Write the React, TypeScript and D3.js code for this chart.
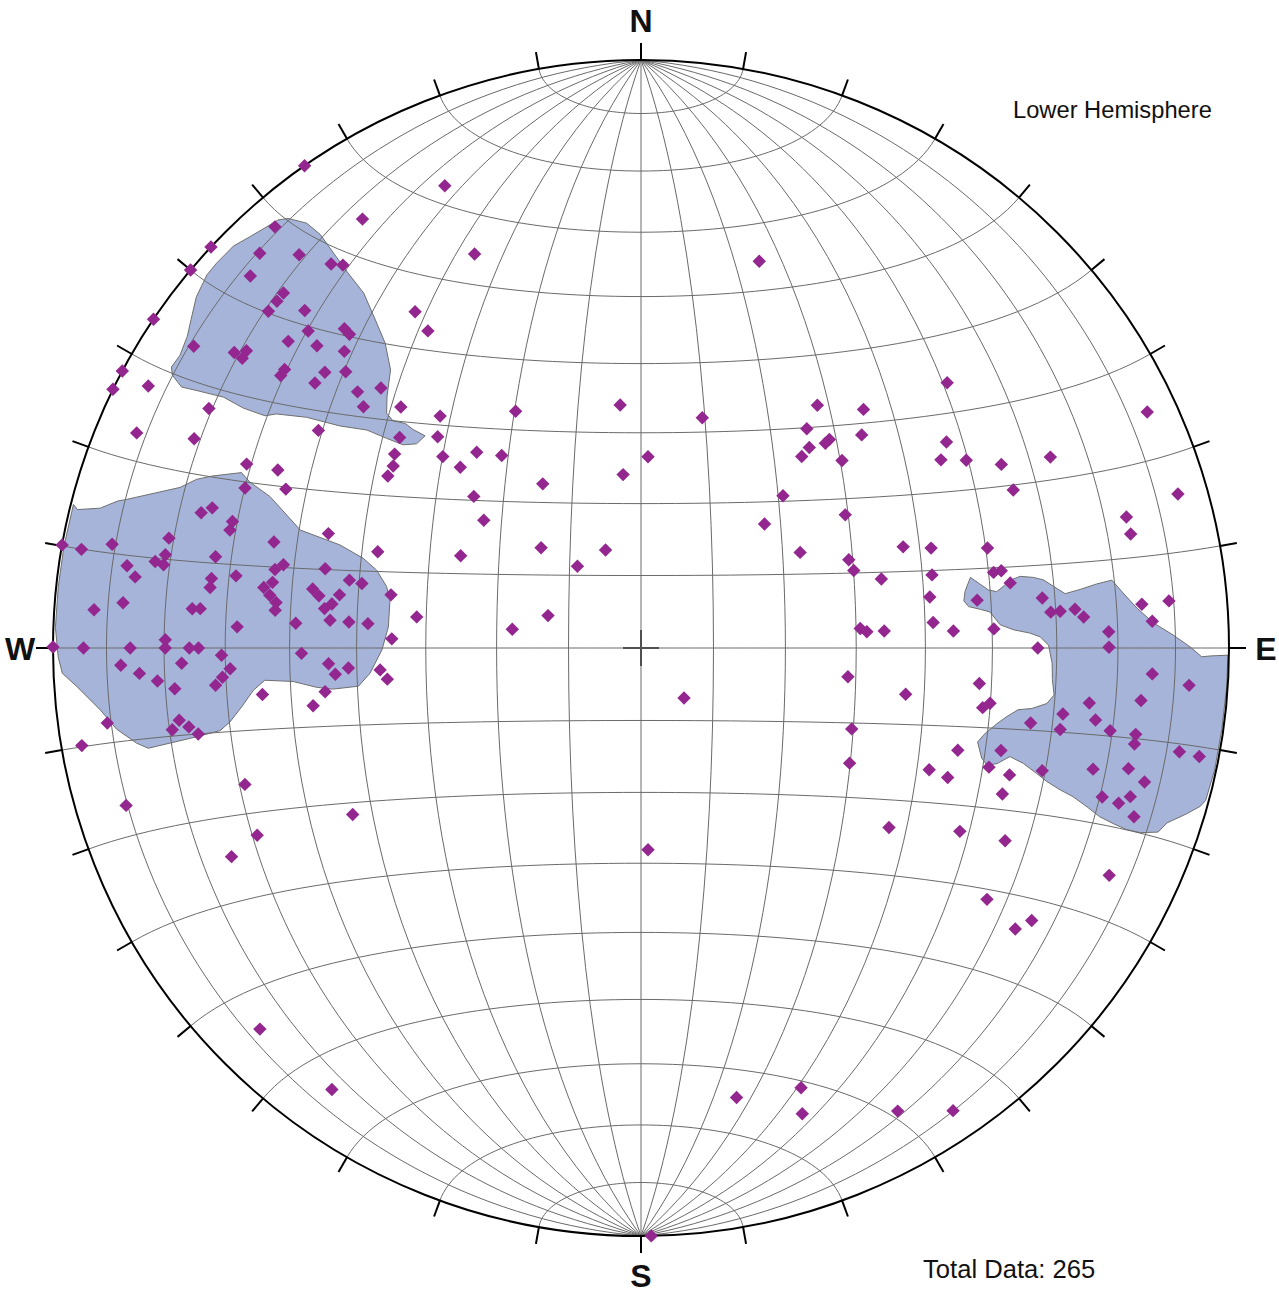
import React, { useEffect, useRef } from 'react';
import * as d3 from 'd3';

const WIDTH = 1279;
const HEIGHT = 1299;
const CENTER = { x: 641, y: 648 };
const RADIUS = 588;
const TICK_LENGTH = 17;
const CROSS_HALF = 18;
const FONT = '"Liberation Sans", Arial, sans-serif';
// distance of each compass letter from the centre
const LABEL_RADII = { N: 628, E: 625, S: 627, W: 621 };

const COLORS = {
  grid: '#6a6a6a',
  primitive: '#000000',
  contourFill: '#a6b4d9',
  contourStroke: '#6f6f6f',
  point: '#93278f',
  cross: '#505050',
  text: '#111111',
};

// lineations as [trend, plunge] in degrees, lower hemisphere
const westPoints = [
  [295.0, 26.9], [296.1, 31.8], [304.2, 46.8], [292.0, 28.2], [294.1, 34.2], [287.1, 22.8], [288.1, 24.3], [287.2, 28.1], [286.0, 28.1], [290.1, 42.8],
  [286.1, 35.3], [290.1, 50.6], [280.1, 0], [280.0, 3.8], [281.1, 9.2], [283.1, 18.7], [281.1, 18.7], [280.1, 17.2], [279.9, 18.7], [282.1, 26.9],
  [279.1, 12.5], [278.0, 14.2], [279.2, 26.9], [278.0, 26.9], [280.1, 30.7], [283.1, 37.6], [282.1, 36.5], [280.1, 36.5], [279.1, 35.3], [278.1, 36.4],
  [277.1, 37.5], [275.9, 37.5], [284.1, 43.9], [283.1, 47.8], [283.0, 49.7], [280.2, 42.7], [279.2, 43.8], [280.0, 46.8], [278.1, 45.9], [277.1, 44.9],
  [275.1, 45.9], [275.1, 48.7], [275.1, 51.5], [282.0, 54.2], [277.9, 58.4], [274.1, 40.8], [273.0, 31.8], [274.0, 7.5], [275.0, 12.6], [275.0, 24.4],
  [275.1, 25.7], [270.1, 0], [270.0, 5.8], [270.0, 14.2], [271.0, 20.2], [270.0, 20.2], [270.0, 24.2], [270.0, 25.7], [269.0, 29.4], [268.1, 22.9],
  [268.1, 12.5], [267.1, 15.7], [266.1, 18.7], [265.0, 21.5], [267.1, 30.7], [266.0, 29.4], [265.0, 28.2], [269.1, 41.8], [267.1, 45.8], [265.1, 46.7],
  [266.1, 48.7], [272.1, 55.1], [265.2, 53.3], [263.0, 54.2], [263.0, 35.4], [262.1, 44.9], [260.0, 42.8], [262.0, 9.2], [261.1, 21.6], [260.1, 20.2],
  [260.1, 23.0], [259.0, 24.3], [260.1, 3.9],
];

const northwestPoints = [
  [325.1, 0], [337.0, 15.7], [327.0, 14.1], [319.0, 5.7], [313.0, 0], [310.0, 0], [316.0, 7.4], [313.6, 9.1], [319.0, 12.4], [321.1, 17.2],
  [322.1, 18.6], [314.8, 15.4], [313.6, 15.6], [312.1, 15.7], [315.1, 20.1], [326.1, 31.7], [326.1, 35.3], [313.6, 22.9], [317.1, 26.8], [317.1, 28.0],
  [304.0, 0], [304.0, 9.1], [306.0, 15.6], [307.0, 17.1], [306.0, 17.3], [311.0, 21.6], [313.0, 25.6], [315.0, 29.4], [308.0, 24.1], [307.1, 24.2],
  [311.1, 29.4], [309.1, 29.3], [313.1, 31.8], [312.1, 35.3], [315.0, 37.5], [311.0, 37.5], [315.1, 41.7], [319.1, 46.7], [316.1, 48.7], [311.1, 44.7],
  [308.2, 45.7], [306.3, 46.6], [314.0, 51.3], [304.0, 34.2], [299.0, 17.1], [293.1, 7.5], [295.1, 17.2], [298.1, 0], [296.1, 0], [298.0, 5.7],
];

const centralPoints = [
  [332.1, 52.4], [355.1, 55.9], [14.9, 56.7], [320.0, 54.2], [324.1, 56.8], [315.0, 54.2], [329.1, 63.4], [312.2, 58.5], [309.1, 61.8], [354.1, 65.8],
  [2.1, 63.4], [297.1, 61.8], [315.1, 70.4], [340.1, 75.6], [322.1, 75.7], [278.3, 72.0], [289.2, 76.4], [337.1, 28.1], [17.0, 31.8], [139.3, 80.9],
  [178.0, 61.9],
];

const eastPoints = [
  [49.1, 31.7], [36.0, 47.7], [43.0, 43.8], [65.0, 5.6], [37.1, 51.4], [46.0, 46.7], [42.1, 50.5], [42.0, 51.3], [40.0, 53.3], [40.0, 55.0],
  [47.0, 51.4], [56.0, 37.4], [57.9, 39.6], [60.0, 36.3], [63.0, 31.8], [65.0, 24.2], [67.0, 31.8], [74.0, 5.6], [43.0, 61.0], [56.9, 55.9],
  [44.9, 65.7], [74.9, 15.6], [76.9, 15.6], [59.0, 64.2], [68.9, 50.5], [71.0, 46.7], [73.9, 38.6], [67.0, 58.5], [70.0, 58.4], [74.0, 55.0],
  [75.9, 47.7], [77.9, 38.6], [77.9, 37.4], [80.0, 36.4], [80.0, 48.7], [81.9, 41.8], [82.9, 31.8], [85.0, 30.7], [85.0, 29.2], [84.9, 26.8],
  [86.0, 25.5], [85.0, 15.6], [84.9, 10.8], [87.0, 14.0], [88.0, 21.5], [89.9, 21.5], [85.0, 48.7], [86.9, 45.8], [86.9, 39.7], [90.0, 33.0],
  [84.9, 59.3], [85.9, 58.4], [86.0, 55.9],
];

const southeastPoints = [
  [92.9, 14.0], [93.9, 7.3], [96.0, 15.6], [97.0, 24.2], [98.9, 28.2], [99.0, 22.8], [100.9, 33.0], [101.0, 28.2], [100.0, 20.1], [99.9, 15.7],
  [101.0, 15.6], [100.9, 7.5], [101.0, 3.7], [96.0, 41.7], [99.0, 39.7], [99.9, 40.7], [99.9, 52.3], [107.9, 42.8], [105.9, 36.5], [112.9, 45.8],
  [112.9, 42.8], [108.9, 37.5], [109.0, 34.1], [107.0, 29.4], [112.0, 34.1], [105.0, 21.5], [103.9, 15.7], [104.9, 12.4], [107.9, 18.7], [108.0, 15.7],
  [106.9, 14.1], [108.9, 12.4], [119.9, 37.5], [117.9, 30.6], [97.9, 60.9], [111.0, 58.5], [118.9, 56.7], [125.9, 46.8], [115.9, 12.5], [126.0, 28.1],
  [124.9, 20.1], [126.9, 21.5],
];

const southPoints = [
  [251.0, 29.5], [253.0, 9.3], [240.0, 42.8], [244.0, 28.2], [243.0, 22.9], [225.0, 9.2], [215.0, 9.2],
  [168.0, 22.9], [160.0, 21.5], [160.9, 17.3], [151.0, 10.9], [146.0, 5.7], [179.0, 0],
];

// highest density contour outlines, [trend, plunge]
const westContour = [
  [284.2, 0.5], [283.8, 1.5], [284.5, 5.6], [285.7, 8.4], [286.1, 9.8], [289.2, 18.1], [290.8, 20.3], [291.9, 22.6], [293.7, 26.7], [293.0, 28.5],
  [292.2, 32.4], [289.1, 38.6], [288.9, 45.0], [287.9, 48.9], [286.4, 51.3], [283.6, 53.3], [280.8, 54.2], [274.8, 54.5], [269.6, 53.7], [264.7, 51.8],
  [262.3, 49.9], [262.4, 46.1], [263.1, 43.7], [264.5, 40.3], [265.1, 36.0], [263.8, 34.1], [261.6, 31.9], [259.8, 29.7], [258.9, 27.9], [258.7, 24.0],
  [258.5, 15.6], [259.3, 13.8], [261.2, 10.7], [263.5, 8.2], [266.1, 4.3], [267.5, 1.7], [269.1, 1.0], [272.0, 0.4], [276.0, 0.4], [280.0, 0.4],
];

const northwestContour = [
  [320.6, 6.1], [321.8, 8.9], [322.2, 12.0], [322.1, 16.0], [322.0, 20.2], [322.0, 24.4], [321.0, 29.0], [320.0, 32.8], [318.0, 36.5], [314.7, 39.1],
  [312.7, 40.8], [312.5, 42.3], [313.6, 43.9], [313.8, 45.4], [314.5, 47.3], [312.3, 47.2], [310.5, 45.8], [309.5, 43.3], [308.5, 40.2], [306.4, 36.5],
  [304.6, 31.5], [302.7, 27.2], [301.7, 25.8], [301.1, 22.1], [301.0, 18.3], [300.2, 14.3], [299.6, 11.1], [300.2, 8.6], [300.9, 7.7], [302.4, 7.9],
  [304.5, 7.1], [306.1, 5.9], [308.3, 4.1], [310.7, 3.0], [312.2, 2.9], [314.6, 3.0], [316.4, 3.9], [318.4, 4.7], [319.7, 5.1],
];

const eastContour = [
  [77.9, 42.2], [79.3, 41.0], [80.5, 39.9], [81.0, 38.7], [80.5, 37.8], [79.6, 36.3], [79.3, 34.7], [79.8, 32.7], [80.4, 31.2], [81.5, 29.8],
  [82.7, 28.1], [82.4, 25.6], [82.0, 22.8], [81.8, 20.2], [83.5, 18.6], [85.4, 16.5], [87.2, 13.8], [88.6, 10.4], [89.9, 7.3], [90.9, 5.2],
  [90.8, 3.6], [90.7, 0.2], [93.8, 0.2], [98.0, 0.3], [102.0, 0.3], [105.1, 0.6], [105.8, 1.3], [106.9, 3.4], [108.4, 6.4], [109.6, 7.4],
  [110.3, 10.4], [110.5, 12.9], [110.4, 15.4], [110.2, 18.0], [109.6, 20.6], [109.0, 23.3], [108.7, 25.7], [108.2, 28.2], [107.6, 30.1], [106.8, 32.6],
  [106.4, 34.9], [108.0, 36.5], [108.7, 37.9], [107.9, 39.0], [105.6, 40.3], [103.9, 39.5], [102.0, 38.1], [100.6, 36.8], [99.3, 35.3], [98.8, 33.2],
  [97.8, 31.0], [96.5, 30.0], [94.4, 30.5], [92.1, 30.7], [89.6, 31.3], [88.4, 32.6], [87.8, 34.2], [87.2, 36.7], [86.3, 38.7], [84.1, 40.1],
  [83.5, 41.5], [82.8, 43.2], [81.7, 43.8], [80.1, 43.4],
];

const TICK_TRENDS = d3.range(0, 360, 10);
const CARDINALS = [
  { label: 'N', trend: 0 },
  { label: 'E', trend: 90 },
  { label: 'S', trend: 180 },
  { label: 'W', trend: 270 },
];
const HEMISPHERE_LABEL = 'Lower Hemisphere';
const TOTAL_LABEL = 'Total Data: 265';

const RAD = Math.PI / 180;

// trend/plunge -> lon/lat on a net whose centre (0,0) is the vertical
const toGeo = ([trend, plunge]) => {
  const t = trend * RAD;
  const p = plunge * RAD;
  const lat = Math.asin(Math.cos(p) * Math.cos(t));
  const lon = Math.atan2(Math.cos(p) * Math.sin(t), Math.sin(p));
  return [lon / RAD, lat / RAD];
};

export default function App() {
  const svgRef = useRef(null);

  useEffect(() => {
    const svg = d3.select(svgRef.current);
    svg.selectAll('*').remove();

    const projection = d3
      .geoAzimuthalEqualArea()
      .scale(RADIUS / Math.SQRT2)
      .translate([CENTER.x, CENTER.y])
      .clipAngle(90)
      .precision(0.1);
    const path = d3.geoPath(projection);
    const toScreen = (d) => projection(toGeo(d));
    const polar = (trend, r) => [CENTER.x + r * Math.sin(trend * RAD), CENTER.y - r * Math.cos(trend * RAD)];

    svg.append('rect').attr('width', WIDTH).attr('height', HEIGHT).attr('fill', '#fff');

    // contour fills under the net
    const closedLine = d3.line().curve(d3.curveLinearClosed);
    svg
      .append('g')
      .selectAll('path')
      .data([westContour, northwestContour, eastContour])
      .join('path')
      .attr('d', (c) => closedLine(c.map(toScreen)))
      .attr('fill', COLORS.contourFill)
      .attr('stroke', COLORS.contourStroke)
      .attr('stroke-width', 1);

    // Schmidt net
    const graticule = d3
      .geoGraticule()
      .extentMajor([[-180, -90], [180, 90]])
      .extentMinor([[-180, -89.999], [180, 89.999]])
      .step([10, 10]);
    svg
      .append('path')
      .datum(graticule())
      .attr('d', path)
      .attr('fill', 'none')
      .attr('stroke', COLORS.grid)
      .attr('stroke-width', 1);

    svg
      .append('circle')
      .attr('cx', CENTER.x)
      .attr('cy', CENTER.y)
      .attr('r', RADIUS)
      .attr('fill', 'none')
      .attr('stroke', COLORS.primitive)
      .attr('stroke-width', 2);

    svg
      .append('g')
      .selectAll('line')
      .data(TICK_TRENDS)
      .join('line')
      .attr('x1', (t) => polar(t, RADIUS)[0])
      .attr('y1', (t) => polar(t, RADIUS)[1])
      .attr('x2', (t) => polar(t, RADIUS + TICK_LENGTH)[0])
      .attr('y2', (t) => polar(t, RADIUS + TICK_LENGTH)[1])
      .attr('stroke', COLORS.primitive)
      .attr('stroke-width', 2);

    const cross = svg.append('g').attr('stroke', COLORS.cross).attr('stroke-width', 2);
    cross.append('line').attr('x1', CENTER.x - CROSS_HALF).attr('x2', CENTER.x + CROSS_HALF).attr('y1', CENTER.y).attr('y2', CENTER.y);
    cross.append('line').attr('y1', CENTER.y - CROSS_HALF).attr('y2', CENTER.y + CROSS_HALF).attr('x1', CENTER.x).attr('x2', CENTER.x);

    // data
    const allPoints = [...westPoints, ...northwestPoints, ...centralPoints, ...eastPoints, ...southeastPoints, ...southPoints];
    const diamond = d3.symbol(d3.symbolSquare, 90)();
    svg
      .append('g')
      .selectAll('path')
      .data(allPoints)
      .join('path')
      .attr('d', diamond)
      .attr('transform', (d) => {
        const [x, y] = toScreen(d);
        return `translate(${x},${y}) rotate(45)`;
      })
      .attr('fill', COLORS.point);

    // labels
    svg
      .append('g')
      .selectAll('text')
      .data(CARDINALS)
      .join('text')
      .attr('x', (d) => polar(d.trend, LABEL_RADII[d.label])[0])
      .attr('y', (d) => polar(d.trend, LABEL_RADII[d.label])[1])
      .attr('dy', '0.36em')
      .attr('text-anchor', 'middle')
      .attr('font-family', FONT)
      .attr('font-weight', 'bold')
      .attr('font-size', 32)
      .attr('fill', COLORS.text)
      .text((d) => d.label);

    svg
      .append('text')
      .attr('x', 1013)
      .attr('y', 118)
      .attr('font-family', FONT)
      .attr('font-size', 23.7)
      .attr('fill', COLORS.text)
      .text(HEMISPHERE_LABEL);

    svg
      .append('text')
      .attr('x', 923)
      .attr('y', 1277.5)
      .attr('font-family', FONT)
      .attr('font-size', 25.6)
      .attr('fill', COLORS.text)
      .text(TOTAL_LABEL);
  }, []);

  return (
    <div style={{ position: 'absolute', left: 0, top: 0 }}>
      <svg ref={svgRef} width={WIDTH} height={HEIGHT} style={{ display: 'block' }} />
    </div>
  );
}
